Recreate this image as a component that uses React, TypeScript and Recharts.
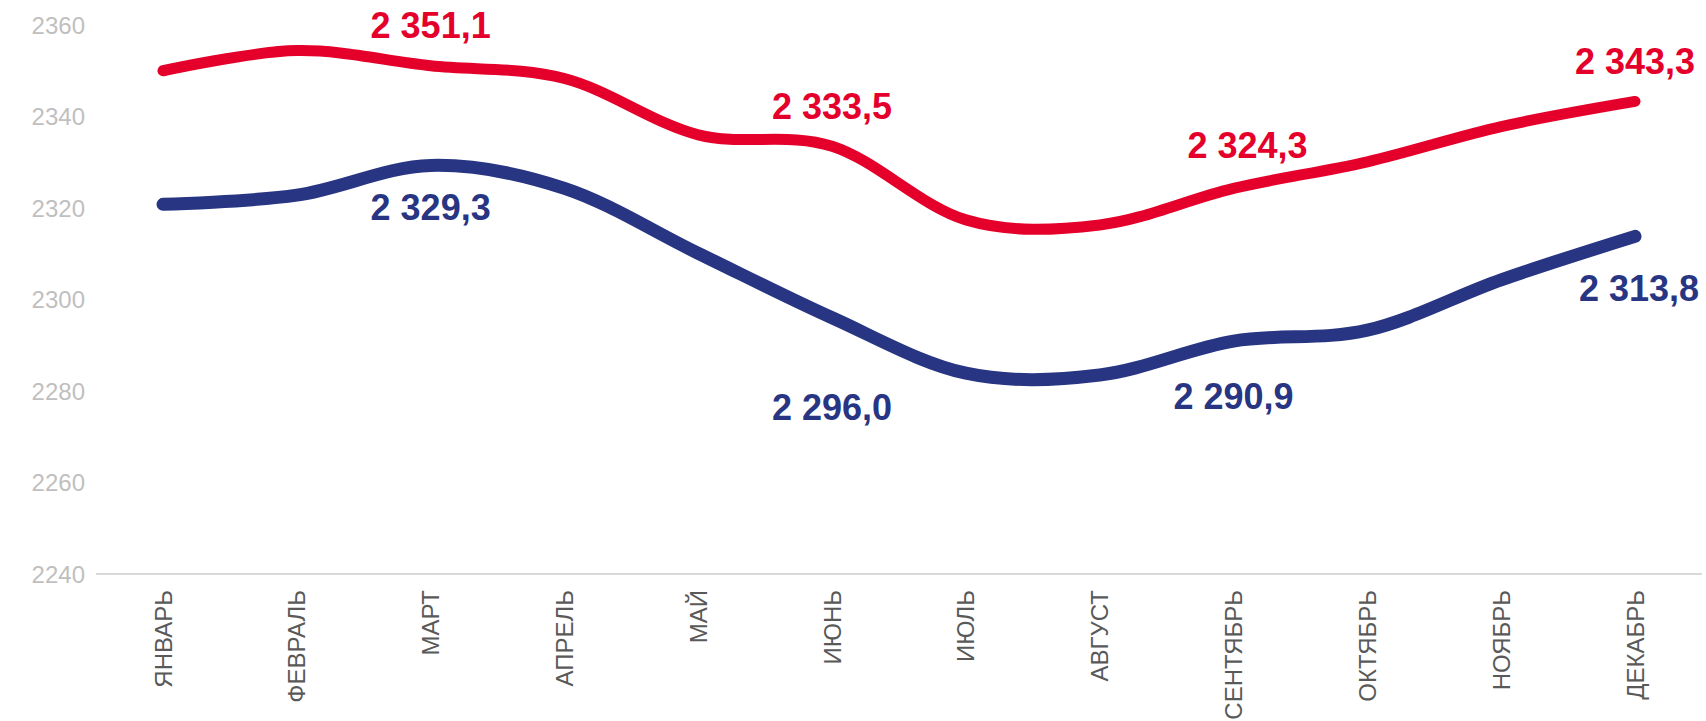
import { CartesianGrid, LabelList, Line, LineChart, XAxis, YAxis } from "recharts";

const months = [
  "ЯНВАРЬ",
  "ФЕВРАЛЬ",
  "МАРТ",
  "АПРЕЛЬ",
  "МАЙ",
  "ИЮНЬ",
  "ИЮЛЬ",
  "АВГУСТ",
  "СЕНТЯБРЬ",
  "ОКТЯБРЬ",
  "НОЯБРЬ",
  "ДЕКАБРЬ",
];
const redValues = [2350.0, 2354.4, 2351.1, 2348.3, 2336.0, 2333.5, 2317.4, 2316.3, 2324.3, 2330.1, 2337.8, 2343.3];
const blueValues = [2320.8, 2322.8, 2329.3, 2324.3, 2310.1, 2296.0, 2283.9, 2283.5, 2290.9, 2293.3, 2304.3, 2313.8];
const yTicks = [2240, 2260, 2280, 2300, 2320, 2340, 2360];

// Only every third month carries a value label; the offsets nudge each one
// off the line the way the source chart has them placed by hand.
const RED_LABELS: Record<number, [number, number]> = { 2: [0, -40], 5: [0, -40], 8: [14, -43], 11: [0, -40] };
const BLUE_LABELS: Record<number, [number, number]> = { 2: [0, 42], 5: [0, 90], 8: [0, 55], 11: [4, 52] };

const RED = "#E4002B";
const BLUE = "#283583";
const FONT = "'Liberation Sans', Arial, sans-serif";

const data = months.map((m, i) => ({ month: m, red: redValues[i], blue: blueValues[i] }));

// Smooth line like the office-style chart: cardinal spline with tension 0
// (Catmull-Rom), which is allowed to overshoot between points.
function cardinal(context: any) {
  const k = 1 / 6;
  let x0 = NaN, x1 = NaN, x2 = NaN, y0 = NaN, y1 = NaN, y2 = NaN;
  let pt = 0;
  let line: number = NaN;
  const seg = (x: number, y: number) =>
    context.bezierCurveTo(x1 + k * (x2 - x0), y1 + k * (y2 - y0), x2 + k * (x1 - x), y2 + k * (y1 - y), x2, y2);
  return {
    areaStart() { line = 0; },
    areaEnd() { line = NaN; },
    lineStart() {
      x0 = x1 = x2 = y0 = y1 = y2 = NaN;
      pt = 0;
    },
    lineEnd() {
      if (pt === 2) context.lineTo(x2, y2);
      else if (pt === 3) seg(x1, y1);
      if (line || (line !== 0 && pt === 1)) context.closePath();
      line = 1 - line;
    },
    point(x: number, y: number) {
      x = +x;
      y = +y;
      if (pt === 0) {
        pt = 1;
        line ? context.lineTo(x, y) : context.moveTo(x, y);
      } else if (pt === 1) {
        pt = 2;
        x1 = x;
        y1 = y;
      } else {
        if (pt === 2) pt = 3;
        seg(x, y);
      }
      x0 = x1; x1 = x2; x2 = x;
      y0 = y1; y1 = y2; y2 = y;
    },
  };
}

const fmt = (v: number) => {
  const [int, dec] = v.toFixed(1).split(".");
  return `${int.replace(/\B(?=(\d{3})+(?!\d))/g, " ")},${dec}`;
};

function makeLabel(offsets: Record<number, [number, number]>, color: string) {
  return (props: any) => {
    const { x, y, value, index } = props;
    const off = offsets[index];
    if (!off || x == null || y == null) return null;
    return (
      <text
        x={x + off[0]}
        y={y + off[1]}
        textAnchor="middle"
        dominantBaseline="central"
        fill={color}
        fontSize={36}
        fontWeight="bold"
        fontFamily={FONT}
      >
        {fmt(value)}
      </text>
    );
  };
}

function MonthTick({ x, y, payload }: any) {
  return (
    <text
      x={x}
      y={y}
      transform={`rotate(-90, ${x}, ${y})`}
      textAnchor="end"
      dominantBaseline="central"
      fill="#595959"
      fontSize={24}
      fontFamily={FONT}
    >
      {payload.value}
    </text>
  );
}

export default function App() {
  return (
    <div style={{ position: "absolute", left: 0, top: 0, background: "#fff" }}>
      <LineChart width={1706} height={721} data={data} margin={{ top: 25, right: 4, left: 0, bottom: 0 }}>
        <CartesianGrid horizontal={false} vertical={false} />
        <XAxis
          dataKey="month"
          height={147}
          padding={{ left: 67, right: 67 }}
          axisLine={{ stroke: "#D9D9D9", strokeWidth: 2 }}
          tickLine={false}
          tickSize={0}
          tickMargin={16}
          interval={0}
          tick={<MonthTick />}
        />
        <YAxis
          domain={[2240, 2360]}
          ticks={yTicks}
          width={96}
          axisLine={false}
          tickLine={false}
          tickSize={0}
          tickMargin={11}
          tick={{ fill: "#BFBFBF", fontSize: 24, fontFamily: FONT }}
        />
        <Line
          dataKey="red"
          type={cardinal as any}
          stroke={RED}
          strokeWidth={11}
          strokeLinecap="round"
          dot={false}
          activeDot={false}
          isAnimationActive={false}
        >
          <LabelList dataKey="red" content={makeLabel(RED_LABELS, RED)} />
        </Line>
        <Line
          dataKey="blue"
          type={cardinal as any}
          stroke={BLUE}
          strokeWidth={13}
          strokeLinecap="round"
          dot={false}
          activeDot={false}
          isAnimationActive={false}
        >
          <LabelList dataKey="blue" content={makeLabel(BLUE_LABELS, BLUE)} />
        </Line>
      </LineChart>
    </div>
  );
}
